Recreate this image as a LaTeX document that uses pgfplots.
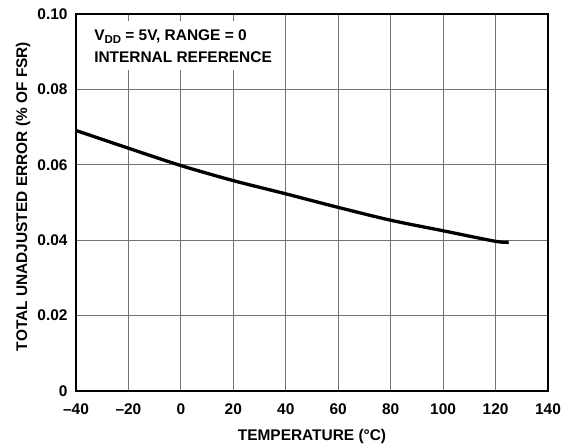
\documentclass[border=0pt]{standalone}
\usepackage{fontspec}
\setmainfont{Liberation Sans}
\usepackage{pgfplots}
\pgfplotsset{compat=1.18}
\begin{document}
\begin{tikzpicture}
\begin{axis}[
  name=ax,
  scale only axis,
  width=472bp, height=377bp,
  xmin=-40, xmax=140, ymin=0, ymax=0.10,
  xtick={-40,-20,0,20,40,60,80,100,120,140},
  xticklabels={\textendash40,\textendash20,0,20,40,60,80,100,120,140},
  ytick={0,0.02,0.04,0.06,0.08,0.10},
  yticklabels={0,0.02,0.04,0.06,0.08,0.10},
  major tick length=0pt,
  grid=major,
  major grid style={black!55, line width=1bp},
  axis line style={black, line width=1.3bp},
  tick label style={font=\bfseries\fontsize{15.5}{18}\selectfont},
  label style={font=\bfseries\fontsize{15.5}{18}\selectfont},
  xticklabel style={yshift=-9bp},
  yticklabel style={xshift=-5bp},
  xlabel={TEMPERATURE (°C)},
  ylabel={TOTAL UNADJUSTED ERROR (\% OF FSR)},
  xlabel style={at={(axis description cs:0.5,-0.1326)}, anchor=base},
  ylabel style={at={(axis description cs:-0.1038,0.516)}, anchor=base},
]
\addplot[black, line width=3.3bp, smooth] coordinates {
  (-40,0.0691) (-20,0.0644) (0,0.0598) (20,0.0558) (40,0.0523)
  (60,0.0487) (80,0.0453) (100,0.0425) (120,0.0397) (125,0.0395)
};
\node[anchor=north west, fill=white, inner xsep=6bp, inner ysep=8bp, align=left,
      font=\bfseries\fontsize{15.5}{22}\selectfont]
  at (axis cs:-35.4,0.0981) {V\raisebox{-3bp}{\fontsize{11.5}{12}\selectfont DD} = 5V, RANGE = 0\\INTERNAL REFERENCE};
\end{axis}
\pgfresetboundingbox
\path[use as bounding box] ([xshift=-76bp,yshift=-53bp]ax.south west) rectangle ([xshift=24bp,yshift=14bp]ax.north east);
\end{tikzpicture}
\end{document}
